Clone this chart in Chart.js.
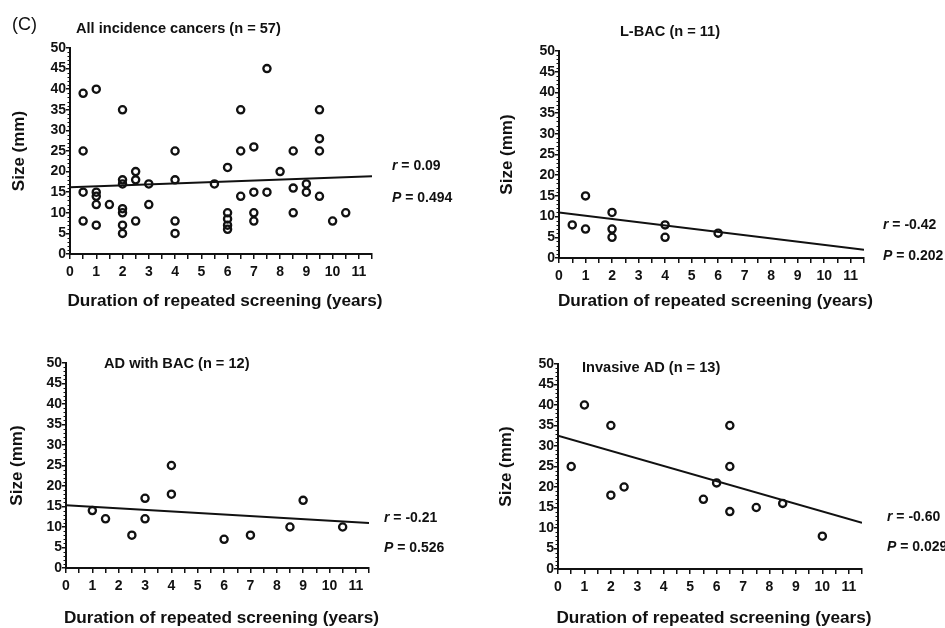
<!DOCTYPE html>
<html>
<head>
<meta charset="utf-8">
<script src="https://cdn.jsdelivr.net/npm/chart.js@4.4.1/dist/chart.umd.min.js"></script>
<style>
  body { margin: 0; background: #fff; width: 945px; height: 628px; position: relative; overflow: hidden; }
  canvas { position: absolute; left: 0; top: 0; }
</style>
</head>
<body>
<canvas id="allChart" width="945" height="628"></canvas>
<canvas id="lbacChart" width="945" height="628"></canvas>
<canvas id="adbacChart" width="945" height="628"></canvas>
<canvas id="invChart" width="945" height="628"></canvas>
<script>
// data (years of screening, tumour size in mm)
const allYears = [0.5, 0.5, 0.5, 0.5, 1, 1, 1, 1, 1, 1.5, 2, 2, 2, 2, 2, 2, 2, 2.5, 2.5, 2.5, 3, 3, 4, 4, 4, 4, 5.5, 6, 6, 6, 6, 6, 6.5, 6.5, 6.5, 7, 7, 7, 7, 7.5, 7.5, 8, 8.5, 8.5, 8.5, 9, 9, 9.5, 9.5, 9.5, 9.5, 10, 10.5];
const allSizes = [39, 25, 15, 8, 40, 15, 14, 12, 7, 12, 35, 18, 17, 11, 10, 7, 5, 20, 18, 8, 17, 12, 25, 18, 8, 5, 17, 21, 10, 8.5, 7, 6, 35, 25, 14, 26, 15, 10, 8, 15, 45, 20, 25, 16, 10, 17, 15, 35, 28, 25, 14, 8, 10];

const lbacYears = [0.5, 1, 1, 2, 2, 2, 4, 4, 6];
const lbacSizes = [8, 15, 7, 11, 7, 5, 8, 5, 6];

const adbacYears = [1, 1.5, 2.5, 3, 3, 4, 4, 6, 7, 8.5, 9, 10.5];
const adbacSizes = [14, 12, 8, 17, 12, 25, 18, 7, 8, 10, 16.5, 10];

const invYears = [0.5, 1, 2, 2, 2.5, 5.5, 6, 6.5, 6.5, 6.5, 7.5, 8.5, 10];
const invSizes = [25, 40, 35, 18, 20, 17, 21, 35, 25, 14, 15, 16, 8];

// regression lines, read at x = 0 and x = 11.5
const fitX = [0, 11.5];
const allFit = [16.2, 18.9];
const lbacFit = [11, 2];
const adbacFit = [15.3, 11];
const invFit = [32.5, 11.3];

const xTicksMax = 11;
const xTitle = "Duration of repeated screening (years)";
const FONT = "'Liberation Sans', Arial, sans-serif";
const INK = "#111";

// teks judul panel, judul sumbu x dan nilai r / P
const notesPlugin = {
  id: "notes",
  afterDraw(chart, args, o) {
    const ctx = chart.ctx;
    const area = chart.chartArea;
    ctx.save();
    ctx.fillStyle = INK;
    ctx.textBaseline = "middle";
    if (o.tag) {
      ctx.font = "18px " + FONT;
      ctx.textAlign = "left";
      ctx.fillText(o.tag, o.tagX, o.tagY);
    }
    ctx.font = "bold 14.6px " + FONT;
    ctx.textAlign = o.titleAlign;
    ctx.fillText(o.title, o.titleX, o.titleY);

    // judul sumbu x (tidak dipotong selebar area chart)
    ctx.font = "bold 17.2px " + FONT;
    ctx.textAlign = "center";
    ctx.fillText(xTitle, (area.left + area.right) / 2 + 4, o.xTitleY);

    ctx.textAlign = "left";
    const stat = (sym, val, y) => {
      ctx.font = "italic bold 14px " + FONT;
      ctx.fillText(sym, o.statX, y);
      const w = ctx.measureText(sym).width;
      ctx.font = "bold 14px " + FONT;
      ctx.fillText(" = " + val, o.statX + w, y);
    };
    stat("r", o.r, o.rY);
    stat("P", o.p, o.pY);

    // tick kecil di sumbu y
    const ys = chart.scales.y;
    ctx.strokeStyle = INK;
    ctx.lineWidth = 1;
    for (let v = 1; v < 50; v++) {
      if (v % 5 === 0) continue;
      const py = Math.round(ys.getPixelForValue(v)) + 0.5;
      ctx.beginPath();
      ctx.moveTo(area.left - 2.5, py);
      ctx.lineTo(area.left, py);
      ctx.stroke();
    }
    ctx.restore();
  },
};

function makePanel(id, years, sizes, fit, box, notes) {
  const pts = years.map((x, i) => ({ x: x, y: sizes[i] }));
  const line = fitX.map((x, i) => ({ x: x, y: fit[i] }));
  const padLeft = box.yTitleX - 10.2 - 2;
  const padBottom = 628 - box.xTitleY - 12;
  notes.xTitleY = box.xTitleY;

  return new Chart(document.getElementById(id).getContext("2d"), {
    type: "scatter",
    data: {
      datasets: [
        {
          data: pts,
          pointStyle: "circle",
          pointRadius: 3.6,
          pointBorderWidth: 2.3,
          pointBorderColor: INK,
          pointBackgroundColor: "rgba(0,0,0,0)",
        },
        {
          data: line,
          showLine: true,
          borderColor: INK,
          borderWidth: 2,
          pointRadius: 0,
        },
      ],
    },
    options: {
      responsive: false,
      animation: false,
      events: [],
      layout: {
        padding: { left: padLeft, top: box.t, right: 945 - box.r, bottom: padBottom },
      },
      scales: {
        x: {
          type: "linear",
          min: 0,
          max: 11.5,
          afterFit: (s) => { s.height = 628 - padBottom - box.b; },
          border: { display: true, color: INK, width: 2 },
          grid: { display: true, drawOnChartArea: false, tickLength: 5, color: INK, lineWidth: 1.5 },
          ticks: {
            stepSize: 0.5,
            autoSkip: false,
            maxRotation: 0,
            padding: 5,
            color: INK,
            font: { family: FONT, size: 14, weight: "bold" },
            callback: (v) => (Number.isInteger(v) && v <= xTicksMax ? String(v) : ""),
          },
          title: { display: false },
        },
        y: {
          min: 0,
          max: 50,
          afterFit: (s) => { s.width = box.l - padLeft; },
          border: { display: true, color: INK, width: 2 },
          grid: { display: true, drawOnChartArea: false, tickLength: 4, color: INK, lineWidth: 1.5 },
          ticks: {
            stepSize: 5,
            padding: 0,
            color: INK,
            font: { family: FONT, size: 14, weight: "bold" },
          },
          title: {
            display: true,
            text: "Size (mm)",
            color: INK,
            font: { family: FONT, size: 17, weight: "bold" },
            padding: { top: 2, bottom: 2 },
          },
        },
      },
      plugins: {
        legend: { display: false },
        tooltip: { enabled: false },
        notes: notes,
      },
    },
    plugins: [notesPlugin],
  });
}

makePanel("allChart", allYears, allSizes, allFit,
  { l: 70, r: 372, t: 48, b: 254, yTitleX: 19, xTitleY: 301 },
  { tag: "(C)", tagX: 12, tagY: 25, title: "All incidence cancers (n = 57)", titleAlign: "left",
    titleX: 76, titleY: 29, r: "0.09", p: "0.494", statX: 392, rY: 166, pY: 198 });

makePanel("lbacChart", lbacYears, lbacSizes, lbacFit,
  { l: 559, r: 864, t: 51, b: 258, yTitleX: 507, xTitleY: 301 },
  { title: "L-BAC (n = 11)", titleAlign: "center", titleX: 670, titleY: 32,
    r: "-0.42", p: "0.202", statX: 883, rY: 225, pY: 256 });

makePanel("adbacChart", adbacYears, adbacSizes, adbacFit,
  { l: 66, r: 369, t: 363, b: 568, yTitleX: 17, xTitleY: 618 },
  { title: "AD with BAC (n = 12)", titleAlign: "left", titleX: 104, titleY: 364,
    r: "-0.21", p: "0.526", statX: 384, rY: 518, pY: 548 });

makePanel("invChart", invYears, invSizes, invFit,
  { l: 558, r: 862, t: 364, b: 569, yTitleX: 506, xTitleY: 618 },
  { title: "Invasive AD (n = 13)", titleAlign: "left", titleX: 582, titleY: 368,
    r: "-0.60", p: "0.029", statX: 887, rY: 517, pY: 547 });
</script>
</body>
</html>
